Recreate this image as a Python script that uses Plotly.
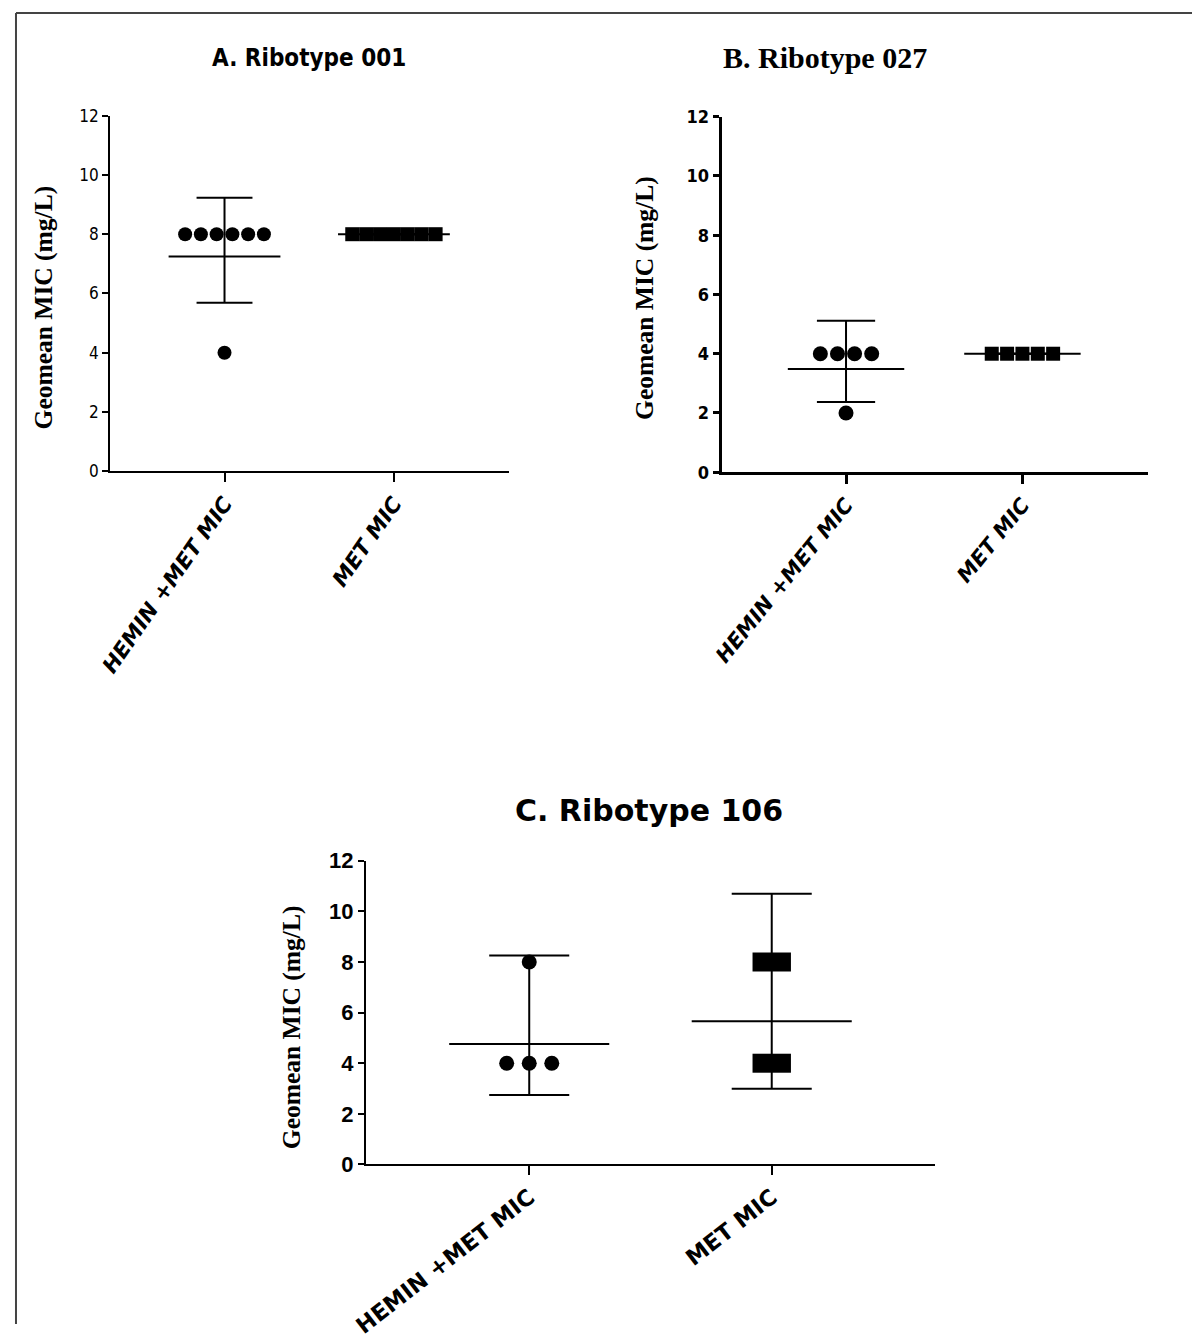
import plotly.graph_objects as go
import math

# ---------------- data ----------------
categories = ["HEMIN +MET MIC", "MET MIC"]
titles = ["A. Ribotype 001", "B. Ribotype 027", "C. Ribotype 106"]
y_title = "Geomean MIC (mg/L)"
y_ticks = [0, 2, 4, 6, 8, 10, 12]

rt001_hemin_met = [8, 8, 8, 8, 8, 8, 4]
rt001_met = [8, 8, 8, 8, 8, 8, 8]
rt027_hemin_met = [4, 4, 4, 4, 2]
rt027_met = [4, 4, 4, 4, 4]
rt106_hemin_met = [8, 4, 4, 4]
rt106_met = [8, 8, 4, 4]

# two-sided 95% t critical values by degrees of freedom
T95 = {1: 12.706, 2: 4.303, 3: 3.182, 4: 2.776, 5: 2.571, 6: 2.447, 7: 2.365, 8: 2.306}


def geo_stats(vals):
    logs = [math.log2(v) for v in vals]
    n = len(logs)
    m = sum(logs) / n
    sd = math.sqrt(sum((l - m) ** 2 for l in logs) / (n - 1))
    half = T95[n - 1] * sd / math.sqrt(n)
    return 2 ** m, 2 ** (m - half), 2 ** (m + half)


def spread(vals, center, spacing):
    xs, counts, seen = [], {}, {}
    for v in vals:
        counts[v] = counts.get(v, 0) + 1
    for v in vals:
        i = seen.get(v, 0)
        seen[v] = i + 1
        xs.append(center + (i - (counts[v] - 1) / 2) * spacing)
    return xs


NARROW = "Liberation Sans Narrow, Arial Narrow, DejaVu Sans Condensed, sans-serif"
SERIF = "Liberation Serif, Times New Roman, serif"
ARIAL = "Liberation Sans, Arial, sans-serif"
DEJAVU = "DejaVu Sans, Verdana, sans-serif"
W, H = 1192, 1339


def py(t):
    # vertical page-position calibration
    return (t - 12.2) / 0.981


def px(t):
    # horizontal page-position calibration
    return 5 + (t - 22) / 0.985


panels = [
    dict(groups=[rt001_hemin_met, rt001_met], xd=[112, 510], yd=[472, 116], xr=[-0.675, 1.68],
         dot=14, sq=14, dsp=0.093, ssp=0.082, lw=2, axw=2,
         ytf=dict(family=NARROW, size=17, color="black"),
         xtf=dict(family=DEJAVU, size=21.5, color="black", weight="bold", style="italic"), xang=-55,
         title=dict(text=titles[0], x=310, y=58,
                    font=dict(family="DejaVu Sans Condensed, sans-serif", size=24, color="black", weight="bold")),
         ytx=45, yty=308),
    dict(groups=[rt027_hemin_met, rt027_met], xd=[722, 1147], yd=[473, 117], xr=[-0.705, 1.71],
         dot=15, sq=14, dsp=0.097, ssp=0.087, lw=2, axw=3,
         ytf=dict(family=NARROW, size=18, color="black", weight="bold"),
         xtf=dict(family=DEJAVU, size=21, color="black", weight="bold", style="italic"), xang=-51,
         title=dict(text=titles[1], x=825, y=58, font=dict(family=SERIF, size=30, color="black", weight="bold")),
         ytx=645, yty=298),
    dict(groups=[rt106_hemin_met, rt106_met], xd=[367, 935], yd=[1166, 862], xr=[-0.674, 1.674],
         dot=15, sq=19, dsp=0.093, ssp=0.08, lw=2, axw=2,
         ytf=dict(family=ARIAL, size=22, color="black", weight="bold"),
         xtf=dict(family=DEJAVU, size=22.5, color="black", weight="bold"), xang=-38,
         title=dict(text=titles[2], x=650, y=812, font=dict(family=DEJAVU, size=30, color="black", weight="bold")),
         ytx=293, yty=1029),
]

fig = go.Figure()
annotations = []
layout_axes = {}

for k, p in enumerate(panels):
    sfx = "" if k == 0 else str(k + 1)
    xa, ya = "x" + sfx, "y" + sfx
    for ci, vals in enumerate(p["groups"]):
        gm, lo, hi = geo_stats(vals)
        lx, ly = [], []
        # mean line
        lx += [ci - 0.33, ci + 0.33, None]
        ly += [gm, gm, None]
        # error bar (95% CI)
        lx += [ci, ci, None, ci - 0.165, ci + 0.165, None, ci - 0.165, ci + 0.165]
        ly += [lo, hi, None, lo, lo, None, hi, hi]
        fig.add_trace(go.Scatter(x=lx, y=ly, mode="lines", xaxis=xa, yaxis=ya,
                                 line=dict(color="black", width=p["lw"]), showlegend=False,
                                 hoverinfo="skip"))
        is_dot = ci == 0
        xs = spread(vals, ci, p["dsp"] if is_dot else p["ssp"])
        fig.add_trace(go.Scatter(x=xs, y=vals, mode="markers", xaxis=xa, yaxis=ya,
                                 marker=dict(symbol="circle" if is_dot else "square",
                                             size=p["dot"] if is_dot else p["sq"], color="black",
                                             line=dict(width=0)),
                                 name=categories[ci], showlegend=False, cliponaxis=False))
    layout_axes["xaxis" + sfx] = dict(
        domain=[px(p["xd"][0]) / W, px(p["xd"][1]) / W], anchor=ya, range=p["xr"],
        tickvals=[0, 1], ticktext=categories, tickangle=p["xang"], tickfont=p["xtf"],
        showline=True, linecolor="black", linewidth=p["axw"], ticks="outside", ticklen=9,
        tickwidth=p["axw"], tickcolor="black", showgrid=False, zeroline=False)
    layout_axes["yaxis" + sfx] = dict(
        domain=[1 - py(p["yd"][0]) / H, 1 - py(p["yd"][1]) / H], anchor=xa, range=[0, 12],
        tickvals=y_ticks, tickfont=p["ytf"], showline=True, linecolor="black",
        linewidth=p["axw"], ticks="outside", ticklen=6, tickwidth=p["axw"], tickcolor="black",
        showgrid=False, zeroline=False)
    t = p["title"]
    annotations.append(dict(text=t["text"], x=px(t["x"]) / W, y=1 - py(t["y"]) / H, xref="paper", yref="paper",
                            xanchor="center", yanchor="middle", showarrow=False, font=t["font"]))
    annotations.append(dict(text=y_title, x=px(p["ytx"]) / W, y=1 - py(p["yty"]) / H,
                            xref="paper", yref="paper", xanchor="center", yanchor="middle",
                            textangle=-90, showarrow=False,
                            font=dict(family=SERIF, size=25.5, color="black", weight="bold")))

fig.update_layout(
    width=W, height=H, margin=dict(l=0, r=0, t=0, b=0),
    paper_bgcolor="white", plot_bgcolor="white",
    annotations=annotations,
    shapes=[
        dict(type="line", xref="paper", yref="paper", x0=1 / W, x1=1, y0=1 - 1 / H, y1=1 - 1 / H,
             line=dict(color="#444", width=2)),
        dict(type="line", xref="paper", yref="paper", x0=1 / W, x1=1 / W, y0=0, y1=1 - 1 / H,
             line=dict(color="#444", width=2)),
    ],
    **layout_axes,
)

fig.write_html("out.html")
